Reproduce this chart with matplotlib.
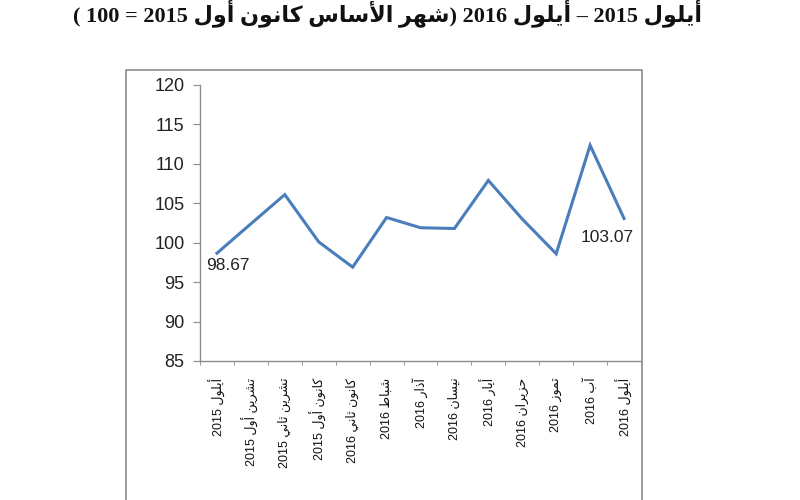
import matplotlib
matplotlib.use('Agg')
import matplotlib.pyplot as plt
from matplotlib.patches import Rectangle

# البيانات
months = ['أيلول 2015', 'تشرين أول 2015', 'تشرين ثاني 2015', 'كانون أول 2015',
          'كانون ثاني 2016', 'شباط 2016', 'آذار 2016', 'نيسان 2016', 'أيار 2016',
          'حزيران 2016', 'تموز 2016', 'آب 2016', 'أيلول 2016']
values = [98.67, 102.4, 106.1, 100.1, 96.9, 103.2, 101.9, 101.8, 107.9,
          103.0, 98.6, 112.35, 103.07]
y_ticks = [85, 90, 95, 100, 105, 110, 115, 120]
title = 'أيلول 2015 – أيلول 2016 (شهر الأساس كانون أول 2015 = 100 )'

# تشكيل الحروف العربية (بدون مكتبات خارجية)
FORMS = {  # isolated, final, initial, medial
    'ا': ('\uFE8D', '\uFE8E', None, None),
    'أ': ('\uFE83', '\uFE84', None, None),
    'آ': ('\uFE81', '\uFE82', None, None),
    'ب': ('\uFE8F', '\uFE90', '\uFE91', '\uFE92'),
    'ت': ('\uFE95', '\uFE96', '\uFE97', '\uFE98'),
    'ث': ('\uFE99', '\uFE9A', '\uFE9B', '\uFE9C'),
    'ح': ('\uFEA1', '\uFEA2', '\uFEA3', '\uFEA4'),
    'ذ': ('\uFEAB', '\uFEAC', None, None),
    'ر': ('\uFEAD', '\uFEAE', None, None),
    'ز': ('\uFEAF', '\uFEB0', None, None),
    'س': ('\uFEB1', '\uFEB2', '\uFEB3', '\uFEB4'),
    'ش': ('\uFEB5', '\uFEB6', '\uFEB7', '\uFEB8'),
    'ط': ('\uFEC1', '\uFEC2', '\uFEC3', '\uFEC4'),
    'ك': ('\uFED9', '\uFEDA', '\uFEDB', '\uFEDC'),
    'ل': ('\uFEDD', '\uFEDE', '\uFEDF', '\uFEE0'),
    'م': ('\uFEE1', '\uFEE2', '\uFEE3', '\uFEE4'),
    'ن': ('\uFEE5', '\uFEE6', '\uFEE7', '\uFEE8'),
    'ه': ('\uFEE9', '\uFEEA', '\uFEEB', '\uFEEC'),
    'و': ('\uFEED', '\uFEEE', None, None),
    'ي': ('\uFEF1', '\uFEF2', '\uFEF3', '\uFEF4'),
}
LAM_ALEF = {'ا': ('\uFEFB', '\uFEFC'), 'أ': ('\uFEF7', '\uFEF8'), 'آ': ('\uFEF5', '\uFEF6')}


def shape(word):
    out = []
    i = 0
    prev_joins = False
    while i < len(word):
        c = word[i]
        if c not in FORMS:
            out.append(c)
            prev_joins = False
            i += 1
            continue
        if c == 'ل' and i + 1 < len(word) and word[i + 1] in LAM_ALEF:
            out.append(LAM_ALEF[word[i + 1]][1 if prev_joins else 0])
            prev_joins = False
            i += 2
            continue
        f = FORMS[c]
        next_joins = f[2] is not None and i + 1 < len(word) and word[i + 1] in FORMS
        if prev_joins and next_joins:
            out.append(f[3])
        elif prev_joins:
            out.append(f[1])
        elif next_joins:
            out.append(f[2])
        else:
            out.append(f[0])
        prev_joins = next_joins
        i += 1
    return ''.join(out)


def rtl(text):
    mirror = {'(': ')', ')': '('}
    toks = []
    for t in text.split(' '):
        if any(ch in FORMS for ch in t):
            t = ''.join(mirror.get(ch, ch) for ch in shape(t)[::-1])
        else:
            t = ''.join(mirror.get(ch, ch) for ch in t)
        toks.append(t)
    return ' '.join(toks[::-1])


fig = plt.figure(figsize=(8, 5), dpi=100)
ax = fig.add_axes([200 / 800, 1 - 361 / 500, 441 / 800, 276 / 500])

x = list(range(len(values)))
ax.plot(x, values, color='#4A7EBB', linewidth=2.2, solid_joinstyle='miter')

ax.set_ylim(85, 120)
ax.set_xlim(-0.5, len(values) - 0.5)
ax.set_yticks(y_ticks)
ax.set_yticklabels([str(v) for v in y_ticks], fontsize=13, family=['Liberation Sans'],
                   color='#222222')

ax.set_xticks(x)
ax.set_xticklabels([rtl(m) for m in months], rotation=90, va='top', ha='center',
                   fontsize=9, family=['Liberation Sans', 'DejaVu Sans'], color='#111111')
ax.tick_params(axis='x', length=0, pad=12)
ax.set_xticks([i + 0.5 for i in range(-1, len(values))], minor=True)
ax.tick_params(axis='x', which='minor', length=3, color='#8C8C8C')
ax.tick_params(axis='y', length=5, color='#8C8C8C', pad=6)

for s in ['top', 'right']:
    ax.spines[s].set_visible(False)
for s in ['left', 'bottom']:
    ax.spines[s].set_color('#8C8C8C')
    ax.spines[s].set_linewidth(1)

ax.annotate(f'{values[0]:.2f}', (x[0], values[0]), xytext=(8, -9), textcoords='offset points',
            ha='center', va='center', fontsize=12.5, family=['Liberation Sans'], color='#222222')
ax.annotate(f'{values[-1]:.2f}', (x[-1], values[-1]), xytext=(-12, -14), textcoords='offset points',
            ha='center', va='center', fontsize=12.5, family=['Liberation Sans'], color='#222222')

# إطار المخطط
fig.patches.append(Rectangle((126 / 800, -0.05), (642 - 126) / 800, 1 - 70 / 500 + 0.05,
                             transform=fig.transFigure, fill=False, edgecolor='#8C8C8C',
                             linewidth=1.2))

fig.text(0.484, 1 - 21 / 500, rtl(title), ha='center', va='baseline', fontsize=16,
         fontweight='bold', family=['Liberation Serif', 'DejaVu Sans'], color='#111111')

fig.savefig('out.png', dpi=100)
